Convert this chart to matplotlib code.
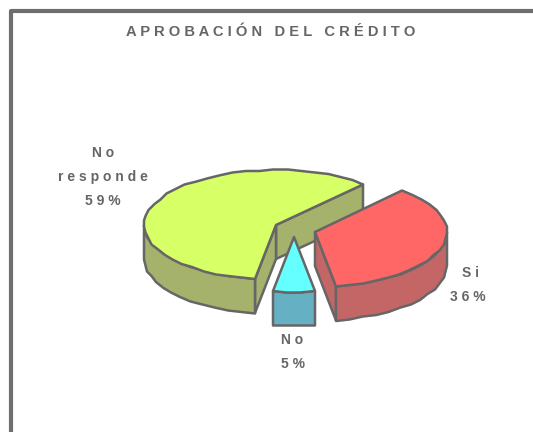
#!/usr/bin/env python3
"""Torta 3D: aprobacion del credito"""
import numpy as np
import matplotlib
matplotlib.use('Agg')
import matplotlib.pyplot as plt
from matplotlib.patches import Polygon

plt.rcParams['font.family'] = ['Liberation Sans', 'DejaVu Sans']

TITLE = 'APROBACIÓN DEL CRÉDITO'
labels = ['No responde', 'No', 'Si']
values = [59, 5, 36]

# colores: cara superior, pared
C_TOP = ['#D7FF66', '#66FFFF', '#FF6666']
C_SIDE = ['#A4B26B', '#66B0C4', '#C46666']
C_LINE = '#666666'

CX, CY = 276, 225      # centro de la torta (px)
RX, RY = 132, 55
DEPTH = 34
START = 48.5
offsets = [(0, 0), (18, 12), (39, 7)]   # separacion de cada porcion
label_pos = [[(103, 153), (103, 177), (103, 201)],
             [(292, 340), (293, 364)],
             [(470, 273), (468, 297)]]


def spaced(s):
    return ' '.join(s)


def arc(cx, cy, t0, t1, dz=0.0, step=6.0):
    n = max(2, int(abs(t1 - t0) / step) + 1)
    t = np.radians(np.linspace(t0, t1, n))
    pts = np.column_stack([cx + RX * np.cos(t), cy - RY * np.sin(t) + dz])
    return np.round(pts / 1.5) * 1.5   # contorno algo escalonado como el original


def poly(ax, pts, color, z):
    ax.add_patch(Polygon(pts, closed=True, facecolor=color, edgecolor=C_LINE,
                         linewidth=1.8, joinstyle='round', zorder=z))


def wall(ax, p, q, color, z):
    poly(ax, [p, q, (q[0], q[1] + DEPTH), (p[0], p[1] + DEPTH)], color, z)


def draw_slice(ax, t0, t1, off, top, side, z):
    cx, cy = CX + off[0], CY + off[1]
    apex = (cx, cy)
    edge = arc(cx, cy, t0, t1)
    # paredes de corte: solo las que miran al frente
    if np.cos(np.radians(t0)) > 0:
        wall(ax, apex, edge[0], side, z)
    if np.cos(np.radians(t1)) < 0:
        wall(ax, apex, edge[-1], side, z + 0.1)
    # pared exterior
    a, b = max(t0, 180), min(t1, 360)
    if b > a:
        up = arc(cx, cy, a, b)
        down = arc(cx, cy, a, b, dz=DEPTH)
        poly(ax, np.vstack([up, down[::-1]]), side, z + 0.2)
    poly(ax, np.vstack([[apex], edge]), top, z + 0.3)


fig = plt.figure(figsize=(5.33, 4.32), dpi=100)
ax = fig.add_axes([0, 0, 1, 1])
ax.set_xlim(0, 533)
ax.set_ylim(432, 0)
ax.axis('off')

# marco: solo arriba e izquierda
ax.plot([11, 11, 533], [432, 11, 11], color='#6E6E6E', linewidth=3, zorder=1)

ax.text(271, 32, spaced(TITLE), ha='center', va='center', fontsize=10.6,
        color=C_LINE, fontweight='bold')

total = sum(values)
t = START
for i, v in enumerate(values):
    span = 360.0 * v / total
    # orden de dibujo: verde, celeste, rojo
    draw_slice(ax, t, t + span, offsets[i], C_TOP[i], C_SIDE[i], 2 + i)
    t += span

for i, (name, v) in enumerate(zip(labels, values)):
    lines = name.split() + [f'{v}%']
    for (x, y), line in zip(label_pos[i], lines):
        ax.text(x, y, spaced(line), ha='center', va='center', fontsize=10,
                color=C_LINE, fontweight='bold', zorder=10)

fig.savefig('out.png', dpi=100)
